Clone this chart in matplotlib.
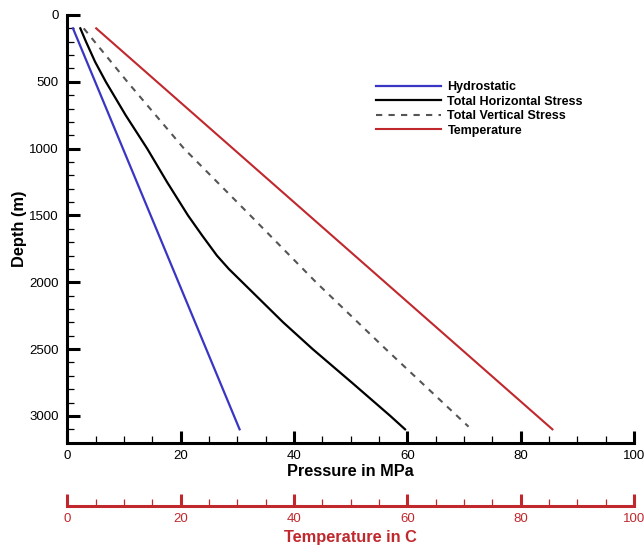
import numpy as np
import matplotlib
matplotlib.use("Agg")
import matplotlib.pyplot as plt
from matplotlib.ticker import MultipleLocator

plt.rcParams['font.family'] = ['Liberation Sans', 'DejaVu Sans']

# depth profiles (m) and values
depth_hyd = [100, 3100]
p_hyd = [1.0, 30.4]

depth_sh = [100, 200, 350, 500, 750, 1000, 1250, 1500, 1650, 1800, 1900,
            2000, 2150, 2300, 2500, 2750, 3000, 3100]
p_sh = [2.3, 3.3, 4.9, 6.8, 10.3, 14.1, 17.6, 21.3, 23.8, 26.4, 28.5,
        30.9, 34.5, 38.1, 43.3, 50.2, 57.0, 59.6]

depth_sv = [100, 500, 1000, 1500, 2000, 2500, 2937, 3080]
p_sv = [2.9, 10.6, 20.6, 32.3, 43.9, 56.2, 67.2, 70.8]

depth_temp = [100, 3100]
temp = [5.1, 85.6]

blue = '#3a36c4'
red = '#c0282d'

fig = plt.figure(figsize=(6.44, 5.47), dpi=100)
ax = fig.add_axes([0.1045, 0.1907, 0.88, 0.7819])

ax.plot(p_hyd, depth_hyd, color=blue, lw=1.6, label='Hydrostatic')
ax.plot(p_sh, depth_sh, color='black', lw=1.6, label='Total Horizontal Stress')
ax.plot(p_sv, depth_sv, color='#555555', lw=1.5, ls=(0, (3, 3)),
        label='Total Vertical Stress')
ax.plot(temp, depth_temp, color=red, lw=1.5, label='Temperature')

ax.set_xlim(0, 100)
ax.set_ylim(3200, 0)

for s in ['top', 'right']:
    ax.spines[s].set_visible(False)
for s in ['left', 'bottom']:
    ax.spines[s].set_linewidth(2.2)

ax.xaxis.set_major_locator(MultipleLocator(20))
ax.xaxis.set_minor_locator(MultipleLocator(5))
ax.yaxis.set_major_locator(MultipleLocator(500))
ax.yaxis.set_minor_locator(MultipleLocator(100))
ax.tick_params(which='major', direction='in', length=9, width=2.2,
               labelsize=9.5, pad=5)
ax.tick_params(which='minor', direction='in', length=5, width=0.9)
ax.tick_params(axis='y', which='major', pad=6)

ax.set_xlabel('Pressure in MPa', fontsize=11.8, fontweight='bold', labelpad=2)
ax.set_ylabel('Depth (m)', fontsize=11.8, fontweight='bold', labelpad=2)

# temperature scale below the pressure axis
sec = ax.secondary_xaxis(-0.148)
sec.spines['bottom'].set_color(red)
sec.spines['bottom'].set_linewidth(2.2)
sec.xaxis.set_major_locator(MultipleLocator(20))
sec.xaxis.set_minor_locator(MultipleLocator(5))
sec.tick_params(which='major', direction='in', length=9, width=2.2,
                color=red, labelcolor=red, labelsize=9.5, pad=5)
sec.tick_params(which='minor', direction='in', length=5, width=0.9, color=red)
sec.set_xlabel('Temperature in C', fontsize=11.8, fontweight='bold',
               color=red, labelpad=4)

leg = ax.legend(loc='upper left', bbox_to_anchor=(0.534, 0.86), frameon=False,
                prop={'size': 9, 'weight': 'bold'}, handlelength=5.2,
                labelspacing=0.2, borderpad=0, handletextpad=0.5)

fig.savefig('out.png', dpi=100)
